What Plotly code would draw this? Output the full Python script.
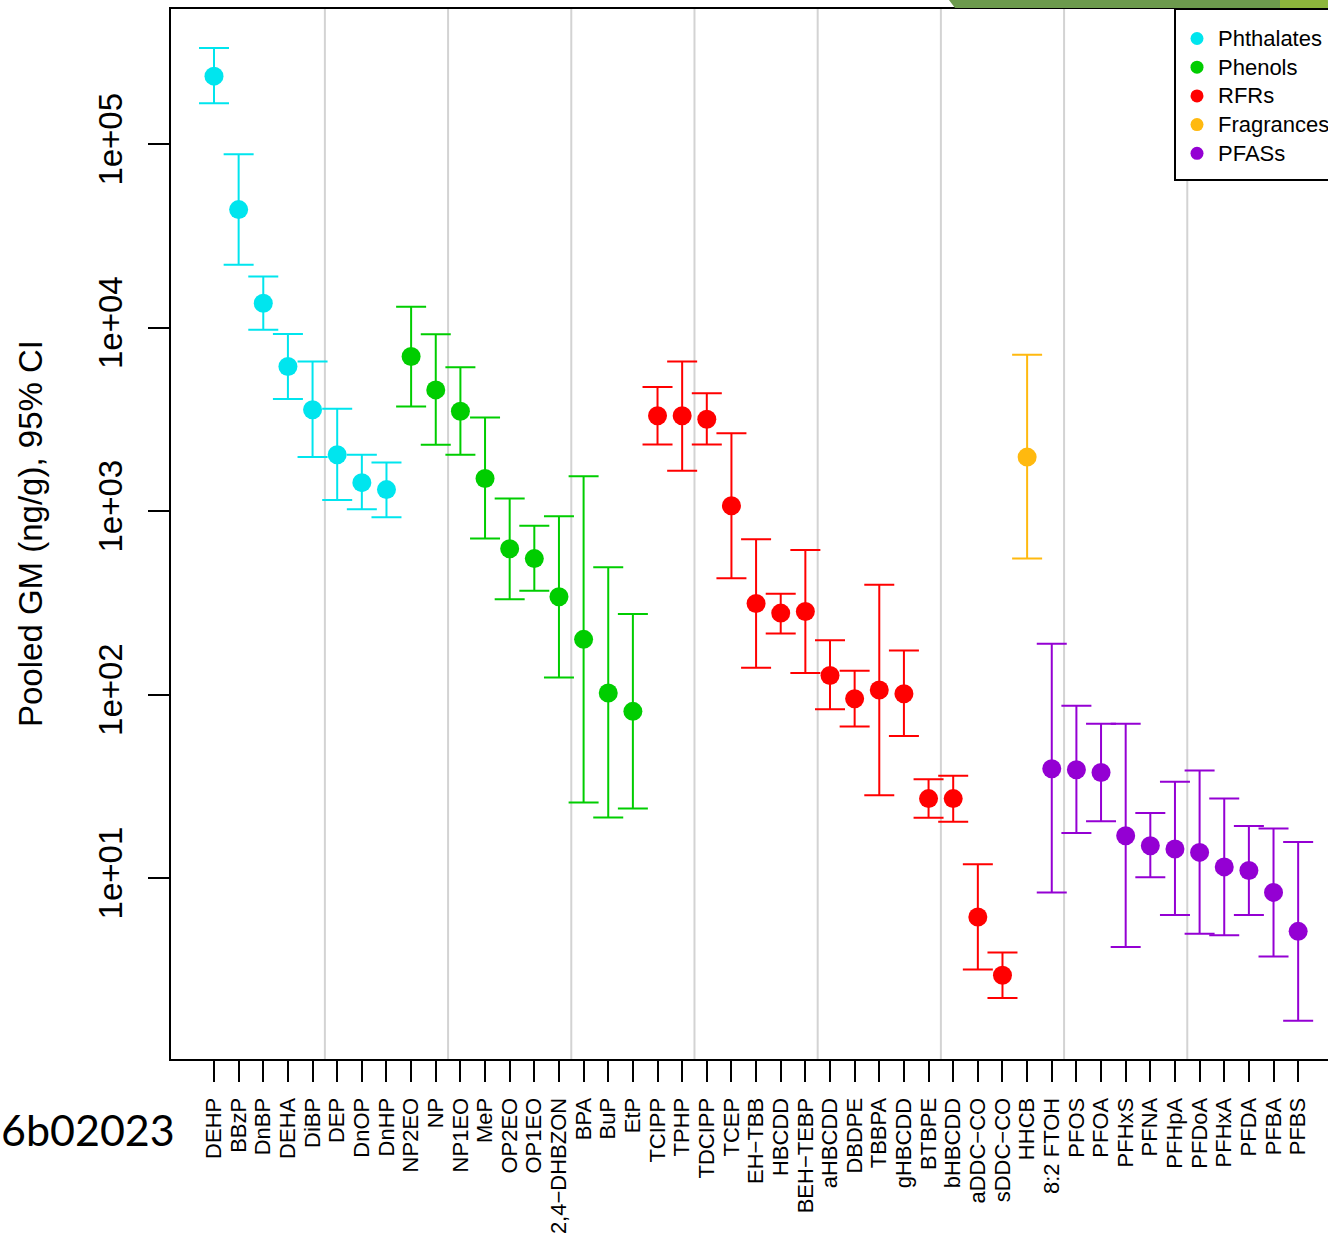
import plotly.graph_objects as go

# Compounds, in plotting order
compounds = [
    "DEHP", "BBzP", "DnBP", "DEHA", "DiBP", "DEP", "DnOP", "DnHP",
    "NP2EO", "NP", "NP1EO", "MeP", "OP2EO", "OP1EO", "2,4\u2212DHBZON", "BPA", "BuP", "EtP",
    "TCIPP", "TPHP", "TDCIPP", "TCEP", "EH\u2212TBB", "HBCDD", "BEH\u2212TEBP", "aHBCDD",
    "DBDPE", "TBBPA", "gHBCDD", "BTBPE", "bHBCDD", "aDDC\u2212CO", "sDDC\u2212CO",
    "HHCB",
    "8:2 FTOH", "PFOS", "PFOA", "PFHxS", "PFNA", "PFHpA", "PFDoA", "PFHxA", "PFDA", "PFBA", "PFBS",
]

# Chemical class of each compound
classes = (
    ["Phthalates"] * 8 + ["Phenols"] * 10 + ["RFRs"] * 15 +
    ["Fragrances"] * 1 + ["PFASs"] * 11
)

# Pooled geometric mean (ng/g) with 95% confidence limits
gm = [
    235000, 44000, 13600, 6140, 3570, 2030, 1430, 1310,
    6960, 4580, 3500, 1505, 623, 551, 341, 200, 102, 81,
    3310, 3310, 3170, 1070, 314, 278, 284, 127, 94.9, 106, 101, 27.1, 27.1, 6.13, 2.95,
    1970,
    39.4, 38.9, 37.6, 17.0, 15.0, 14.4, 13.8, 11.5, 11.0, 8.35, 5.12,
]
ci_low = [
    167000, 22000, 9730, 4090, 1970, 1150, 1025, 927,
    3720, 2300, 2030, 709, 331, 368, 124, 25.8, 21.4, 23.9,
    2310, 1660, 2310, 431, 140, 215, 131, 83.2, 67.0, 28.3, 59.5, 21.3, 20.3, 3.17, 2.22,
    551,
    8.35, 17.6, 20.4, 4.21, 10.1, 6.29, 4.97, 4.87, 6.29, 3.74, 1.67,
]
ci_high = [
    334000, 88200, 19000, 9250, 6540, 3610, 2030, 1840,
    13000, 9220, 6090, 3240, 1170, 832, 939, 1550, 494, 275,
    4750, 6540, 4390, 2660, 703, 355, 613, 198, 135, 397, 174, 34.6, 36.1, 11.9, 3.93,
    7110,
    189, 86.9, 69.3, 69.3, 22.6, 33.5, 38.6, 27.1, 19.2, 18.6, 15.7,
]

class_names = ["Phthalates", "Phenols", "RFRs", "Fragrances", "PFASs"]
class_colors = ["#00E5EE", "#00CD00", "#FF0000", "#FFB90F", "#9400D3"]

y_tickvals = [10, 100, 1000, 10000, 100000]
y_ticktext = ["1e+01", "1e+02", "1e+03", "1e+04", "1e+05"]

W, H = 1328, 1239
ML, MT, MB = 171, 9, 180
PW, PH = W - ML, H - MT - MB

def px_x(p):
    return (p - ML) / PW

def px_y(p):
    return (H - MB - p) / PH

positions = list(range(len(compounds)))

fig = go.Figure()
for name, color in zip(class_names, class_colors):
    idx = [i for i, c in enumerate(classes) if c == name]
    fig.add_trace(go.Scatter(
        x=[positions[i] for i in idx],
        y=[gm[i] for i in idx],
        mode="markers",
        name=name,
        showlegend=False,
        marker=dict(color=color, size=19, line=dict(width=0)),
        error_y=dict(
            type="data", symmetric=False,
            array=[ci_high[i] - gm[i] for i in idx],
            arrayminus=[gm[i] - ci_low[i] for i in idx],
            color=color, thickness=2, width=15,
        ),
        cliponaxis=False,
    ))

shapes = []
# light vertical separators every five compounds
for k in range(5, len(compounds) - 1, 5):
    shapes.append(dict(type="line", xref="x", yref="paper", x0=k - 0.5, x1=k - 0.5,
                       y0=0, y1=1, line=dict(color="#D3D3D3", width=2), layer="below"))

# decorative band above the plot frame
shapes.append(dict(type="path", xref="paper", yref="paper",
                   path=f"M {px_x(949)},{px_y(0)} L {px_x(1280)},{px_y(0)} L {px_x(1280)},{px_y(8)} L {px_x(955)},{px_y(8)} Z",
                   fillcolor="#6C9A4D", line=dict(width=0), layer="above"))
shapes.append(dict(type="path", xref="paper", yref="paper",
                   path=f"M {px_x(1280)},{px_y(0)} L {px_x(1340)},{px_y(0)} L {px_x(1340)},{px_y(8)} L {px_x(1280)},{px_y(8)} Z",
                   fillcolor="#8DB63C", line=dict(width=0), layer="above"))

# legend frame
shapes.append(dict(type="rect", xref="paper", yref="paper",
                   x0=px_x(1175), x1=px_x(1345), y0=px_y(180), y1=px_y(9),
                   fillcolor="white", line=dict(color="black", width=2), layer="above"))

annotations = []
for i, (name, color) in enumerate(zip(class_names, class_colors)):
    yc = 38.5 + 28.7 * i
    shapes.append(dict(type="circle", xref="paper", yref="paper",
                       xsizemode="pixel", ysizemode="pixel",
                       xanchor=px_x(1197), yanchor=px_y(yc),
                       x0=-6.5, x1=6.5, y0=-6.5, y1=6.5,
                       fillcolor=color, line=dict(width=0), layer="above"))
    annotations.append(dict(text=name, xref="paper", yref="paper", x=px_x(1216), y=px_y(yc),
                            xanchor="left", yanchor="middle", showarrow=False,
                            font=dict(family="Liberation Sans, Arial", size=22, color="black")))

annotations.append(dict(text="Pooled GM (ng/g), 95% CI", xref="paper", yref="paper",
                        x=px_x(30), y=0.5, xanchor="center", yanchor="middle", textangle=-90,
                        showarrow=False,
                        font=dict(family="Liberation Sans, Arial", size=33, color="black")))
annotations.append(dict(text="6b02023", xref="paper", yref="paper",
                        x=px_x(-1), y=px_y(1129), xanchor="left", yanchor="middle",
                        showarrow=False,
                        font=dict(family="Lato", size=43, color="black")))

fig.update_layout(
    width=W, height=H,
    margin=dict(l=ML, r=0, t=MT, b=MB, pad=0),
    plot_bgcolor="white", paper_bgcolor="white",
    showlegend=False,
    shapes=shapes, annotations=annotations,
    font=dict(family="Liberation Sans, Arial", color="black"),
)
fig.update_xaxes(
    range=[-1.745, -1.745 + PW / 24.64],
    tickmode="array", tickvals=positions, ticktext=compounds,
    tickangle=-90, tickfont=dict(size=22, family="Liberation Sans, Arial"),
    ticks="outside", ticklen=21, tickwidth=2, tickcolor="black",
    showline=True, linecolor="black", linewidth=2, mirror=True,
    showgrid=False, zeroline=False, ticklabelstandoff=7,
)
fig.update_yaxes(
    type="log", range=[0.0136, 5.737],
    tickmode="array", tickvals=y_tickvals, ticktext=y_ticktext,
    tickangle=-90, tickfont=dict(size=33, family="Liberation Sans, Arial"),
    ticks="outside", ticklen=21, tickwidth=2, tickcolor="black",
    showline=True, linecolor="black", linewidth=2, mirror=False,
    showgrid=False, zeroline=False, ticklabelstandoff=13,
)

fig.write_html("out.html")
